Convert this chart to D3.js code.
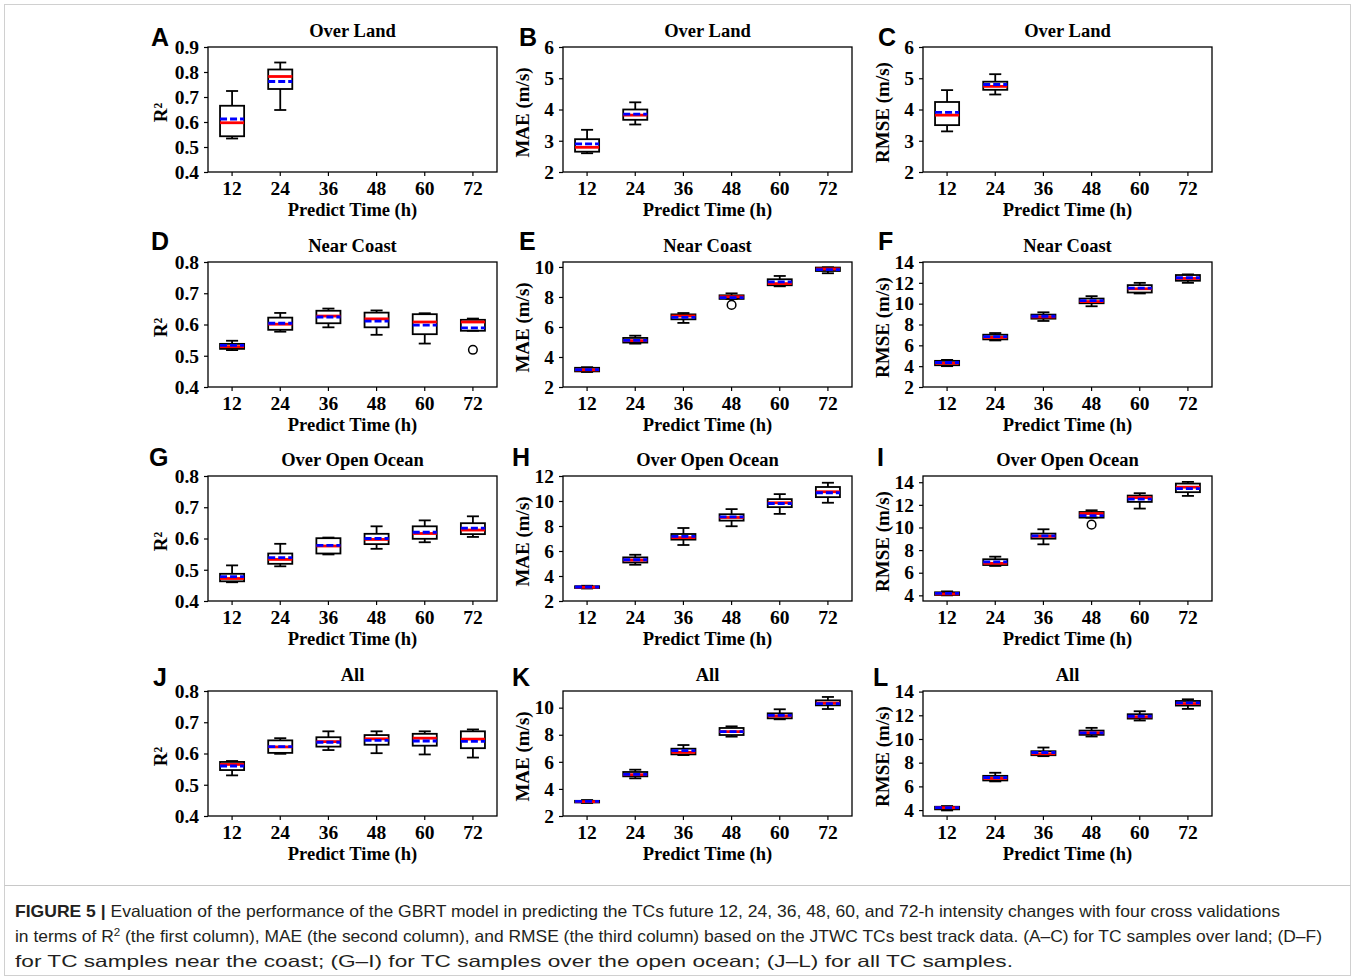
<!DOCTYPE html>
<html><head><meta charset="utf-8">
<script src="https://cdn.jsdelivr.net/npm/d3@7"></script>
<style>body{margin:0;background:#fff}svg{display:block}</style>
</head><body>
<script>
// ---- data: each box = [whiskerLow, q1, median, mean, q3, whiskerHigh]
const hours = ["12","24","36","48","60","72"];
const landR2   = [[0.534,0.543,0.597,0.612,0.665,0.724],[0.648,0.732,0.782,0.762,0.810,0.838]];
const landMAE  = [[2.60,2.65,2.79,2.90,3.05,3.35],[3.52,3.67,3.82,3.85,4.00,4.23]];
const landRMSE = [[3.30,3.50,3.82,3.91,4.24,4.62],[4.48,4.63,4.74,4.80,4.89,5.13]];
const coastR2 = [[0.518,0.522,0.529,0.533,0.538,0.548],[0.577,0.583,0.601,0.604,0.622,0.637],[0.591,0.604,0.627,0.624,0.644,0.651],[0.567,0.591,0.618,0.611,0.638,0.645],[0.539,0.569,0.608,0.598,0.633,0.636],[0.580,0.580,0.608,0.589,0.615,0.619]];
const coastMAE = [[3.00,3.04,3.14,3.16,3.28,3.32],[4.89,4.96,5.09,5.11,5.27,5.42],[6.27,6.51,6.73,6.64,6.84,6.93],[7.87,7.87,8.02,7.96,8.11,8.24],[8.71,8.78,8.89,9.00,9.18,9.40],[9.58,9.73,9.87,9.82,9.96,9.98]];
const coastRMSE = [[4.00,4.09,4.28,4.35,4.51,4.60],[6.47,6.57,6.76,6.83,7.02,7.18],[8.34,8.56,8.72,8.79,8.95,9.17],[9.75,10.04,10.20,10.30,10.49,10.72],[10.98,11.07,11.43,11.49,11.78,12.00],[12.00,12.20,12.42,12.49,12.75,12.81]];
const oceanR2 = [[0.460,0.463,0.472,0.478,0.487,0.514],[0.511,0.519,0.533,0.539,0.552,0.583],[0.549,0.552,0.576,0.578,0.601,0.603],[0.567,0.582,0.597,0.600,0.615,0.639],[0.588,0.599,0.616,0.620,0.639,0.658],[0.605,0.614,0.627,0.633,0.649,0.671]];
const oceanMAE = [[3.00,3.04,3.10,3.12,3.18,3.22],[4.90,5.08,5.27,5.30,5.49,5.70],[6.48,6.91,7.07,7.17,7.36,7.84],[7.98,8.43,8.68,8.73,8.94,9.35],[8.97,9.51,9.86,9.80,10.15,10.55],[9.86,10.31,10.74,10.66,11.12,11.46]];
const oceanRMSE = [[4.00,4.03,4.12,4.18,4.27,4.35],[6.60,6.68,6.83,6.95,7.19,7.42],[8.51,9.01,9.22,9.25,9.46,9.84],[10.87,10.87,11.23,11.05,11.37,11.52],[11.67,12.26,12.64,12.50,12.82,13.03],[12.79,13.12,13.56,13.44,13.88,14.03]];
const allR2 = [[0.530,0.547,0.565,0.560,0.573,0.576],[0.599,0.602,0.621,0.622,0.642,0.649],[0.611,0.622,0.638,0.636,0.652,0.671],[0.601,0.628,0.647,0.642,0.659,0.671],[0.597,0.625,0.649,0.640,0.663,0.671],[0.587,0.617,0.646,0.639,0.671,0.677]];
const allMAE = [[2.96,3.00,3.06,3.08,3.12,3.18],[4.78,4.93,5.05,5.08,5.25,5.42],[6.50,6.55,6.70,6.82,6.97,7.24],[7.86,7.98,8.23,8.23,8.50,8.62],[9.14,9.21,9.38,9.43,9.58,9.88],[9.90,10.17,10.34,10.30,10.54,10.79]];
const allRMSE = [[3.97,4.06,4.20,4.20,4.28,4.34],[6.42,6.50,6.67,6.75,6.89,7.15],[8.55,8.63,8.75,8.86,8.97,9.28],[10.21,10.35,10.52,10.52,10.71,10.94],[11.56,11.72,11.87,11.92,12.09,12.34],[12.54,12.82,12.99,13.04,13.21,13.35]];
// outliers: [boxIndex, value]
const coastR2Out = [[5,0.519]];
const coastMAEOut = [[3,7.47]];
const oceanRMSEOut = [[3,10.25]];
// axis domains and ticks
const r2TicksLand = [0.4,0.5,0.6,0.7,0.8,0.9];
const r2Ticks = [0.4,0.5,0.6,0.7,0.8];
const ticks2to6 = [2,3,4,5,6];
const maeTicksCoast = [2,4,6,8,10];
const rmseTicksCoast = [2,4,6,8,10,12,14];
const maeTicksOcean = [2,4,6,8,10,12];
const rmseTicksOcean = [4,6,8,10,12,14];
const maeTicksAll = [2,4,6,8,10];
const rmseTicksAll = [4,6,8,10,12,14];
const titles = ["Over Land","Near Coast","Over Open Ocean","All"];
const letters = ["A","B","C","D","E","F","G","H","I","J","K","L"];
const yLabels = ["R²","MAE (m/s)","RMSE (m/s)"];
const xLabel = "Predict Time (h)";

const panels = [
  {d:landR2, out:[], dom:[0.4,0.9], t:r2TicksLand, f:".1f"},
  {d:landMAE, out:[], dom:[2,6], t:ticks2to6, f:"d"},
  {d:landRMSE, out:[], dom:[2,6], t:ticks2to6, f:"d"},
  {d:coastR2, out:coastR2Out, dom:[0.4,0.8], t:r2Ticks, f:".1f"},
  {d:coastMAE, out:coastMAEOut, dom:[2,10.33], t:maeTicksCoast, f:"d"},
  {d:coastRMSE, out:[], dom:[2,14], t:rmseTicksCoast, f:"d"},
  {d:oceanR2, out:[], dom:[0.4,0.8], t:r2Ticks, f:".1f"},
  {d:oceanMAE, out:[], dom:[2,12], t:maeTicksOcean, f:"d"},
  {d:oceanRMSE, out:oceanRMSEOut, dom:[3.5,14.55], t:rmseTicksOcean, f:"d"},
  {d:allR2, out:[], dom:[0.4,0.8], t:r2Ticks, f:".1f"},
  {d:allMAE, out:[], dom:[2,11.23], t:maeTicksAll, f:"d"},
  {d:allRMSE, out:[], dom:[3.5,14.05], t:rmseTicksAll, f:"d"}
];

// ---- layout
const W = 1355, H = 976;
const colX = [208, 563, 923], rowY = [47, 262, 476, 691];
const PW = 289, PH = 125;
const letterPos = [[151,46],[519,46],[878,46],[151,250],[519,250],[878,250],[149,466],[512,466],[877,466],[153,686],[512,686],[873,686]];
const serif = "'Liberation Serif','Times New Roman',serif";

const svg = d3.select("body").append("svg").attr("width", W).attr("height", H);
svg.append("rect").attr("x",0).attr("y",0).attr("width",W).attr("height",H).attr("fill","#fff");
svg.append("rect").attr("x",4.5).attr("y",4.5).attr("width",W-9).attr("height",H-5).attr("fill","none").attr("stroke","#d0d0d0").attr("stroke-width",1);
svg.append("line").attr("x1",4.5).attr("x2",W-4.5).attr("y1",885.5).attr("y2",885.5).attr("stroke","#c8c8c8").attr("stroke-width",1);

panels.forEach((p, i) => {
  const col = i % 3, row = Math.floor(i / 3);
  const L = colX[col], T = rowY[row];
  const g = svg.append("g");
  const x = d3.scaleBand().domain(hours).range([L, L + PW]).paddingInner(0).paddingOuter(0);
  const y = d3.scaleLinear().domain(p.dom).range([T + PH, T]);
  const bw = x.bandwidth() * 0.5, cw = x.bandwidth() * 0.25;

  // axes
  const ya = g.append("g").attr("transform", `translate(${L},0)`)
    .call(d3.axisLeft(y).tickValues(p.t).tickSize(4).tickPadding(5).tickFormat(d3.format(p.f)));
  const xa = g.append("g").attr("transform", `translate(0,${T + PH})`)
    .call(d3.axisBottom(x).tickSize(4).tickPadding(5));
  [ya, xa].forEach(a => {
    a.select(".domain").remove();
    a.selectAll(".tick line").attr("stroke", "#000").attr("stroke-width", 1.2);
    a.selectAll(".tick text").attr("fill", "#000").style("font-family", serif)
      .style("font-size", "19.5px").style("font-weight", "bold");
  });
  g.append("rect").attr("x", L).attr("y", T).attr("width", PW).attr("height", PH)
    .attr("fill", "none").attr("stroke", "#000").attr("stroke-width", 1.3);

  // boxes
  p.d.forEach((b, k) => {
    const cx = x(hours[k]) + x.bandwidth() / 2;
    const [lo, q1, med, mean, q3, hi] = b;
    const bg = g.append("g").attr("stroke", "#000").attr("stroke-width", 1.8).attr("fill", "none");
    bg.append("line").attr("x1", cx).attr("x2", cx).attr("y1", y(q3)).attr("y2", y(hi));
    bg.append("line").attr("x1", cx).attr("x2", cx).attr("y1", y(q1)).attr("y2", y(lo));
    bg.append("line").attr("x1", cx - cw / 2).attr("x2", cx + cw / 2).attr("y1", y(hi)).attr("y2", y(hi));
    bg.append("line").attr("x1", cx - cw / 2).attr("x2", cx + cw / 2).attr("y1", y(lo)).attr("y2", y(lo));
    bg.append("rect").attr("x", cx - bw / 2).attr("y", y(q3)).attr("width", bw).attr("height", Math.max(0.5, y(q1) - y(q3)));
    g.append("line").attr("x1", cx - bw / 2).attr("x2", cx + bw / 2).attr("y1", y(med)).attr("y2", y(med))
      .attr("stroke", "#ff0000").attr("stroke-width", 2.8);
    g.append("line").attr("x1", cx - bw / 2).attr("x2", cx + bw / 2).attr("y1", y(mean)).attr("y2", y(mean))
      .attr("stroke", "#0000ff").attr("stroke-width", 2.8).attr("stroke-dasharray", "7,3");
  });
  p.out.forEach(o => {
    const cx = x(hours[o[0]]) + x.bandwidth() / 2;
    g.append("circle").attr("cx", cx).attr("cy", y(o[1])).attr("r", 4.3)
      .attr("fill", "none").attr("stroke", "#000").attr("stroke-width", 1.5);
  });

  // texts
  g.append("text").attr("x", L + PW / 2).attr("y", T - 10).attr("text-anchor", "middle")
    .style("font-family", serif).style("font-size", "18.5px").style("font-weight", "bold").text(titles[row]);
  g.append("text").attr("x", L + PW / 2).attr("y", T + PH + 44).attr("text-anchor", "middle")
    .style("font-family", serif).style("font-size", "18.5px").style("font-weight", "bold").text(xLabel);
  const ylx = col === 0 ? L - 48 : L - 41;
  g.append("text").attr("transform", `translate(${ylx},${T + PH / 2 + 3}) rotate(-90)`).attr("dy", "0.35em")
    .attr("text-anchor", "middle").style("font-family", serif).style("font-size", "19px")
    .style("font-weight", "bold").text(yLabels[col]);
  g.append("text").attr("x", letterPos[i][0]).attr("y", letterPos[i][1])
    .style("font-family", "'Liberation Sans',Arial,sans-serif").style("font-size", "25px")
    .style("font-weight", "bold").text(letters[i]);
});

// caption
const capFont = "'Liberation Sans',Arial,sans-serif";
const cap = svg.append("g").style("font-family", capFont).style("font-size", "16.5px").attr("fill", "#231f20");
const l1 = cap.append("text").attr("x", 15).attr("y", 917).attr("textLength", 1265).attr("lengthAdjust", "spacingAndGlyphs");
l1.append("tspan").style("font-weight", "bold").text("FIGURE 5 | ");
l1.append("tspan").text("Evaluation of the performance of the GBRT model in predicting the TCs future 12, 24, 36, 48, 60, and 72-h intensity changes with four cross validations");
const l2 = cap.append("text").attr("x", 15).attr("y", 942).attr("textLength", 1307).attr("lengthAdjust", "spacingAndGlyphs");
l2.append("tspan").text("in terms of R");
l2.append("tspan").attr("dy", -6).style("font-size", "11px").text("2");
l2.append("tspan").attr("dy", 6).text(" (the first column), MAE (the second column), and RMSE (the third column) based on the JTWC TCs best track data. (A–C) for TC samples over land; (D–F)");
cap.append("text").attr("x", 15).attr("y", 967).attr("textLength", 998).attr("lengthAdjust", "spacingAndGlyphs")
  .text("for TC samples near the coast; (G–I) for TC samples over the open ocean; (J–L) for all TC samples.");
</script>
</body></html>
